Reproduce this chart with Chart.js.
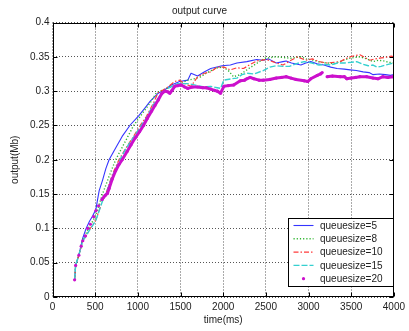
<!DOCTYPE html>
<html>
<head>
<meta charset="utf-8">
<script src="https://cdn.jsdelivr.net/npm/chart.js@4.4.1/dist/chart.umd.min.js"></script>
<style>
html,body{margin:0;padding:0;background:#fff;}
canvas{display:block;}
</style>
</head>
<body>
<canvas id="c" width="409" height="331"></canvas>
<script>
// ---- data ----
const seriesLabels = ['queuesize=5','queuesize=8','queuesize=10','queuesize=15','queuesize=20'];
const xTickValues = [0,500,1000,1500,2000,2500,3000,3500,4000];
const xTickLabels = ['0','500','1000','1500','2000','2500','3000','3500','4000'];
const yTickValues = [0,0.05,0.1,0.15,0.2,0.25,0.3,0.35,0.4];
const yTickLabels = ['0','0.05','0.1','0.15','0.2','0.25','0.3','0.35','0.4'];

const q5Time = [259,271,309,355,394,432,470,509,528,547,586,625,663,740,816,913,1009,1080,1143,1239,1316,1393,1490,1585,1623,1700,1777,1854,1988,2084,2161,2277,2392,2469,2530,2622,2700,2738,2800,2911,2968,3026,3100,3180,3260,3334,3420,3487,3560,3640,3710,3756,3830,3900,3960,4000];
const q5Output = [0.025,0.046,0.061,0.086,0.100,0.110,0.118,0.128,0.142,0.155,0.170,0.187,0.200,0.217,0.234,0.251,0.264,0.275,0.285,0.297,0.302,0.309,0.314,0.316,0.326,0.322,0.328,0.333,0.337,0.338,0.341,0.343,0.346,0.345,0.347,0.341,0.343,0.344,0.341,0.338,0.341,0.343,0.340,0.338,0.335,0.333,0.332,0.331,0.330,0.328,0.327,0.324,0.325,0.324,0.323,0.324];

const q8Time = [259,271,309,355,394,432,470,509,586,660,740,850,951,1080,1150,1220,1300,1400,1470,1585,1660,1738,1800,1860,1931,2000,2060,2120,2200,2300,2400,2490,2560,2622,2700,2795,2911,2968,3064,3140,3218,3300,3372,3430,3487,3540,3602,3680,3756,3820,3880,3940,4000];
const q8Output = [0.025,0.046,0.061,0.084,0.093,0.103,0.110,0.120,0.150,0.175,0.200,0.226,0.250,0.272,0.284,0.298,0.302,0.307,0.309,0.316,0.318,0.321,0.326,0.330,0.334,0.335,0.330,0.321,0.324,0.333,0.341,0.348,0.349,0.350,0.349,0.348,0.350,0.347,0.345,0.342,0.341,0.340,0.343,0.346,0.348,0.349,0.350,0.347,0.343,0.345,0.344,0.342,0.341];

const q10Time = [259,271,309,355,394,432,470,509,586,625,700,778,860,950,1028,1100,1180,1239,1320,1432,1490,1547,1623,1662,1700,1780,1854,1931,2008,2084,2161,2238,2320,2392,2507,2580,2622,2700,2795,2870,2968,3045,3120,3218,3300,3372,3430,3487,3550,3602,3660,3717,3780,3833,3900,3968,4000];
const q10Output = [0.025,0.046,0.061,0.082,0.089,0.098,0.105,0.113,0.140,0.150,0.178,0.200,0.217,0.234,0.250,0.263,0.282,0.298,0.303,0.314,0.316,0.311,0.307,0.314,0.321,0.326,0.328,0.335,0.335,0.331,0.334,0.333,0.339,0.344,0.346,0.343,0.341,0.338,0.345,0.350,0.345,0.347,0.343,0.341,0.342,0.343,0.347,0.350,0.352,0.353,0.349,0.345,0.347,0.348,0.349,0.351,0.350];

const q15Time = [259,271,309,355,394,432,470,509,586,625,700,790,860,950,1020,1100,1180,1250,1354,1470,1585,1700,1780,1854,1930,1969,2008,2100,2161,2220,2277,2360,2469,2546,2620,2700,2776,2860,2949,3040,3122,3200,3256,3340,3420,3500,3564,3640,3700,3756,3800,3850,3900,3968,4000];
const q15Output = [0.025,0.046,0.061,0.082,0.089,0.097,0.104,0.112,0.140,0.150,0.176,0.200,0.216,0.233,0.246,0.261,0.280,0.292,0.304,0.311,0.311,0.308,0.306,0.307,0.305,0.304,0.316,0.318,0.319,0.324,0.326,0.325,0.330,0.335,0.337,0.336,0.336,0.340,0.343,0.341,0.338,0.339,0.338,0.341,0.341,0.342,0.343,0.339,0.337,0.338,0.335,0.336,0.338,0.340,0.341];

const q20Time = [259,271,309,336,355,386,413,444,482,509,540,578,617,644,663,700,740,778,816,874,920,970,1020,1066,1110,1162,1200,1239,1278,1316,1350,1374,1400,1432,1470,1508,1550,1585,1640,1700,1760,1800,1854,1900,1931,1969,2008,2060,2123,2200,2250,2277,2315,2360,2420,2469,2546,2622,2680,2738,2795,2853,2949,2990,3026,3103,3141,3160,3190,3218,3280,3372,3420,3449,3500,3550,3602,3680,3756,3813,3871,3930,3990];
const q20Output = [0.025,0.046,0.061,0.074,0.082,0.089,0.100,0.106,0.117,0.126,0.133,0.142,0.148,0.151,0.158,0.172,0.184,0.193,0.200,0.212,0.222,0.232,0.241,0.250,0.260,0.271,0.279,0.287,0.296,0.300,0.299,0.297,0.301,0.307,0.308,0.309,0.306,0.304,0.306,0.306,0.305,0.305,0.303,0.301,0.300,0.297,0.307,0.308,0.309,0.315,0.316,0.318,0.320,0.318,0.316,0.316,0.317,0.319,0.320,0.321,0.319,0.317,0.315,0.314,0.318,0.323,0.325,0.327,null,0.321,0.322,0.321,0.321,0.318,0.319,0.320,0.321,0.321,0.319,0.318,0.321,0.320,0.321];

// ---- build ----
const pts = (t, v) => t.map((x, i) => ({x: x, y: v[i]}));
const FONT = 'Liberation Sans, Arial, sans-serif';
const TEXT = '#222';

const styles = [
  {color:'#3535ff', dash:[], width:1.1, order:5},
  {color:'#2fb52f', dash:[1.2,2], width:1.4, order:4},
  {color:'#ff3b3b', dash:[5,2,1.5,2], width:1.2, order:3},
  {color:'#35d0d0', dash:[6,2], width:1.4, order:2},
  {color:'#cc10cc', dash:[], width:3, order:1, dots:true}
];
const seriesData = [pts(q5Time,q5Output), pts(q8Time,q8Output), pts(q10Time,q10Output), pts(q15Time,q15Output), pts(q20Time,q20Output)];

const datasets = seriesData.map((d, i) => {
  const s = styles[i];
  const ds = {
    label: seriesLabels[i], data: d, borderColor: s.color, backgroundColor: s.color,
    borderWidth: s.width, borderDash: s.dash, order: s.order, tension: 0,
    pointRadius: 0, spanGaps: false, borderJoinStyle: 'round'
  };
  if (s.dots) {
    ds.pointRadius = 1.6; ds.pointBorderWidth = 0; ds.pointBackgroundColor = s.color;
    ds.segment = { borderColor: c => (c.p1.parsed.x < 600 ? 'rgba(0,0,0,0)' : undefined) };
  }
  return ds;
});

const framePlugin = {
  id: 'frame',
  afterDatasetsDraw(chart) {
    const ctx = chart.ctx, a = chart.chartArea;
    const xs = chart.scales.x, ys = chart.scales.y;
    const L = Math.round(a.left) + 0.5, R = Math.round(a.right) - 0.5;
    const T = Math.round(a.top) + 0.5, B = Math.round(a.bottom) - 0.5;
    ctx.save();
    ctx.strokeStyle = '#000'; ctx.lineWidth = 1; ctx.setLineDash([]);
    ctx.strokeRect(L, T, R - L, B - T);
    ctx.beginPath();
    xTickValues.forEach(v => {
      const p = Math.round(xs.getPixelForValue(v)) + 0.5;
      ctx.moveTo(p, B); ctx.lineTo(p, B - 4);
      ctx.moveTo(p, T); ctx.lineTo(p, T + 4);
    });
    yTickValues.forEach(v => {
      const p = Math.round(ys.getPixelForValue(v)) + 0.5;
      ctx.moveTo(L, p); ctx.lineTo(L + 4, p);
      ctx.moveTo(R, p); ctx.lineTo(R - 4, p);
    });
    ctx.stroke();

    // legend box
    const lx = 288.5, ly = 218.5, lw = 105, lh = 68;
    ctx.fillStyle = '#fff';
    ctx.fillRect(lx, ly, lw, lh);
    ctx.strokeRect(lx, ly, lw, lh);
    ctx.font = '10px ' + FONT;
    ctx.textBaseline = 'middle'; ctx.textAlign = 'left';
    chart.data.datasets.forEach((ds, i) => {
      const s = styles[i];
      const y = 225.5 + i * 13.3;
      ctx.strokeStyle = s.color; ctx.fillStyle = s.color;
      if (s.dots) {
        ctx.beginPath(); ctx.arc(303.5, y, 1.6, 0, Math.PI * 2); ctx.fill();
      } else {
        ctx.lineWidth = s.width; ctx.setLineDash(s.dash);
        ctx.beginPath(); ctx.moveTo(293.5, y); ctx.lineTo(313.5, y); ctx.stroke();
        ctx.setLineDash([]);
      }
      ctx.fillStyle = TEXT;
      ctx.fillText(ds.label, 320, y + 0.5);
    });
    ctx.restore();
  }
};

new Chart(document.getElementById('c'), {
  type: 'line',
  data: { datasets: datasets },
  options: {
    responsive: false, animation: false, devicePixelRatio: 1,
    layout: { padding: { left: 0, right: 10, top: 0, bottom: 0 } },
    plugins: {
      legend: { display: false }, tooltip: { enabled: false },
      title: { display: true, text: 'output curve', color: TEXT,
               font: { family: FONT, size: 10, weight: 'normal', lineHeight: 1.2 },
               padding: { top: 5, bottom: 5.5 } }
    },
    scales: {
      x: {
        type: 'linear', min: 0, max: 4000,
        afterBuildTicks: s => { s.ticks = xTickValues.map(v => ({value: v})); },
        afterFit: s => { s.height = 34; },
        ticks: { color: TEXT, font: { family: FONT, size: 10 }, padding: 4, maxRotation: 0,
                 callback: (v, i) => xTickLabels[i] },
        grid: { color: '#555', lineWidth: 1, drawTicks: false },
        border: { display: false, dash: [1, 2] },
        title: { display: true, text: 'time(ms)', color: TEXT,
                 font: { family: FONT, size: 10 }, padding: { top: 0, bottom: 5 } }
      },
      y: {
        type: 'linear', min: 0, max: 0.4,
        afterBuildTicks: s => { s.ticks = yTickValues.map(v => ({value: v})); },
        afterFit: s => { s.width = 52.5; },
        ticks: { color: TEXT, font: { family: FONT, size: 10 }, padding: 3,
                 callback: (v, i) => yTickLabels[i] },
        grid: { color: '#555', lineWidth: 1, drawTicks: false },
        border: { display: false, dash: [1, 2] },
        title: { display: true, text: 'output(Mb)', color: TEXT,
                 font: { family: FONT, size: 10 }, padding: { top: 9, bottom: 0 } }
      }
    }
  },
  plugins: [framePlugin]
});
</script>
</body>
</html>
